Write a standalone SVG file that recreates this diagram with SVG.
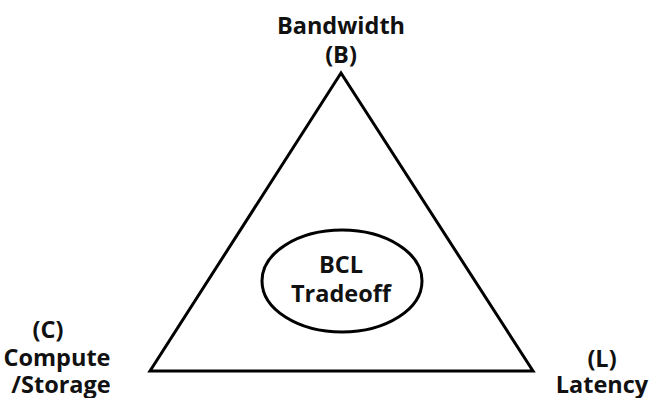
<svg xmlns="http://www.w3.org/2000/svg" width="654" height="398" viewBox="0 0 654 398">
<style>
.lbl{font-family:"Open Sans","Noto Sans","Liberation Sans",sans-serif;font-weight:bold;font-size:23.5px;fill:#111;text-anchor:middle}
.shape{fill:none;stroke:#000;stroke-width:3}
</style>
<rect width="654" height="398" fill="#fff"/>
<g id="triangle"><polygon class="shape" points="341,73 150,371 533,371" stroke-linejoin="miter"/></g>
<g id="center"><ellipse class="shape" cx="342" cy="281" rx="80" ry="51" stroke-width="2.5"/>
<text class="lbl" x="341" y="273">BCL</text><text class="lbl" x="341" y="302">Tradeoff</text></g>
<g id="bandwidth"><text class="lbl" x="341" y="34">Bandwidth</text><text class="lbl" x="341" y="63">(B)</text></g>
<g id="compute"><text class="lbl" x="48" y="338">(C)</text><text class="lbl" x="57" y="366">Compute</text><text class="lbl" x="61" y="393">/Storage</text></g>
<g id="latency"><text class="lbl" x="602" y="367">(L)</text><text class="lbl" x="602" y="393">Latency</text></g>
<g id="connectors"></g>
</svg>
